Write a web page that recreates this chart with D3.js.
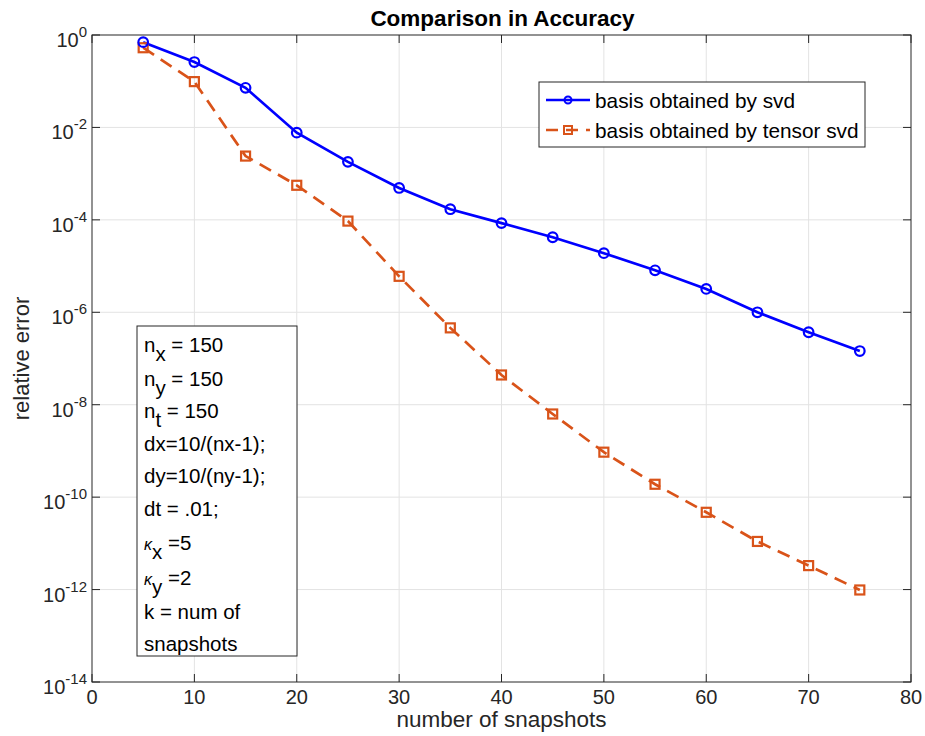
<!DOCTYPE html>
<html><head><meta charset="utf-8">
<script src="https://cdn.jsdelivr.net/npm/d3@7"></script>
<style>body{margin:0;background:#fff;}svg{display:block;font-family:"Liberation Sans",Arial,Helvetica,sans-serif;}</style>
</head><body>
<svg id="c" width="925" height="736"></svg>
<script>
const snapshots = [5,10,15,20,25,30,35,40,45,50,55,60,65,70,75];
const svdErr = [0.70,0.26,0.072,0.0077,1.8e-3,4.9e-4,1.7e-4,8.5e-5,4.2e-5,1.9e-5,8.1e-6,3.2e-6,1.0e-6,3.7e-7,1.45e-7];
const tsvdErr = [0.53,0.098,2.4e-3,5.6e-4,9.4e-5,6.0e-6,4.6e-7,4.4e-8,6.3e-9,9.4e-10,1.9e-10,4.7e-11,1.1e-11,3.3e-12,9.8e-13];
const xTicks = [0,10,20,30,40,50,60,70,80];
const yExponents = [0,-2,-4,-6,-8,-10,-12,-14];
const seriesNames = ["basis obtained by svd","basis obtained by tensor svd"];
const titleText = "Comparison in Accuracy";
const xLabel = "number of snapshots";
const yLabel = "relative error";

const L=92, R=911, T=35, B=682;
const svg = d3.select("#c");
const x = d3.scaleLinear().domain([0,80]).range([L,R]);
const y = d3.scaleLog().domain([1e-14,1]).range([B,T]);
const blue="#0000ff", orange="#D95319", axisCol="#262626", gridCol="#e3e3e3";

// grid
const g = svg.append("g");
xTicks.forEach(t=>{ if(t>0&&t<80) g.append("line").attr("x1",x(t)).attr("x2",x(t)).attr("y1",T).attr("y2",B).attr("stroke",gridCol).attr("stroke-width",1); });
yExponents.forEach(e=>{ const v=Math.pow(10,e); if(e<0&&e>-14) g.append("line").attr("x1",L).attr("x2",R).attr("y1",y(v)).attr("y2",y(v)).attr("stroke",gridCol).attr("stroke-width",1); });

// axes box
svg.append("rect").attr("x",L).attr("y",T).attr("width",R-L).attr("height",B-T).attr("fill","none").attr("stroke",axisCol).attr("stroke-width",1);
xTicks.forEach(t=>{
  svg.append("line").attr("x1",x(t)).attr("x2",x(t)).attr("y1",B).attr("y2",B-8).attr("stroke",axisCol);
  svg.append("line").attr("x1",x(t)).attr("x2",x(t)).attr("y1",T).attr("y2",T+8).attr("stroke",axisCol);
  svg.append("text").attr("x",x(t)).attr("y",704).attr("text-anchor","middle").attr("font-size",20).attr("fill",axisCol).text(t);
});
yExponents.forEach(e=>{
  const yy=y(Math.pow(10,e));
  svg.append("line").attr("x1",L).attr("x2",L+8).attr("y1",yy).attr("y2",yy).attr("stroke",axisCol);
  svg.append("line").attr("x1",R).attr("x2",R-8).attr("y1",yy).attr("y2",yy).attr("stroke",axisCol);
  const tx=svg.append("text").attr("x",87).attr("y",yy+12).attr("text-anchor","end").attr("font-size",20).attr("fill",axisCol);
  tx.append("tspan").text("10");
  tx.append("tspan").attr("dy",-10).attr("font-size",15).text(e);
});

// lines
const line = d3.line().x(d=>x(d[0])).y(d=>y(d[1]));
const bData = snapshots.map((s,i)=>[s,svdErr[i]]);
const oData = snapshots.map((s,i)=>[s,tsvdErr[i]]);
svg.append("path").datum(oData).attr("d",line).attr("fill","none").attr("stroke",orange).attr("stroke-width",2.7).attr("stroke-dasharray","13,8");
svg.append("path").datum(bData).attr("d",line).attr("fill","none").attr("stroke",blue).attr("stroke-width",2.7);
svg.selectAll(".om").data(oData).enter().append("rect").attr("x",d=>x(d[0])-4.5).attr("y",d=>y(d[1])-4.5).attr("width",9).attr("height",9).attr("fill","none").attr("stroke",orange).attr("stroke-width",2.2);
svg.selectAll(".bm").data(bData).enter().append("circle").attr("cx",d=>x(d[0])).attr("cy",d=>y(d[1])).attr("r",4.8).attr("fill","none").attr("stroke",blue).attr("stroke-width",2.2);

// title and labels
svg.append("text").attr("x",(L+R)/2+1).attr("y",26).attr("text-anchor","middle").attr("font-size",22.5).attr("font-weight","bold").attr("fill","#000").text(titleText);
svg.append("text").attr("x",(L+R)/2).attr("y",727).attr("text-anchor","middle").attr("font-size",22.5).attr("fill",axisCol).text(xLabel);
svg.append("text").attr("transform","translate(29,"+((T+B)/2)+") rotate(-90)").attr("text-anchor","middle").attr("font-size",22).attr("fill",axisCol).text(yLabel);

// legend
const lg = svg.append("g");
lg.append("rect").attr("x",539).attr("y",82).attr("width",326).attr("height",65).attr("fill","#fff").attr("stroke","#262626").attr("stroke-width",1);
const legItems=[{c:blue,dash:null,m:"c",yy:100},{c:orange,dash:"12,8",m:"s",yy:130}];
legItems.forEach((it,i)=>{
  lg.append("line").attr("x1",546).attr("x2",590).attr("y1",it.yy).attr("y2",it.yy).attr("stroke",it.c).attr("stroke-width",2.7).attr("stroke-dasharray",it.dash);
  if(it.m==="c") lg.append("circle").attr("cx",568).attr("cy",it.yy).attr("r",3.5).attr("fill","none").attr("stroke",it.c).attr("stroke-width",2);
  else lg.append("rect").attr("x",564).attr("y",it.yy-4).attr("width",8).attr("height",8).attr("fill","none").attr("stroke",it.c).attr("stroke-width",2);
  lg.append("text").attr("x",595).attr("y",it.yy+7.5).attr("font-size",20.8).attr("fill","#000").text(seriesNames[i]);
});

// annotation box
const paramLines = [
  {main:"n", sub:"x", rest:" = 150"},
  {main:"n", sub:"y", rest:" = 150"},
  {main:"n", sub:"t", rest:" = 150"},
  {main:"dx=10/(nx-1);"},
  {main:"dy=10/(ny-1);"},
  {main:"dt = .01;"},
  {main:"\u03BA", sub:"x", rest:" =5", ital:true},
  {main:"\u03BA", sub:"y", rest:" =2", ital:true},
  {main:"k = num of"},
  {main:"snapshots"}
];
const ab = svg.append("g");
ab.append("rect").attr("x",137).attr("y",326).attr("width",160).attr("height",330).attr("fill","#fff").attr("stroke","#262626").attr("stroke-width",1);
const baselines=[352,386,418,451,483,516,550,585,619,651];
paramLines.forEach((p,i)=>{
  const t=ab.append("text").attr("x",144).attr("y",baselines[i]).attr("font-size",20.5).attr("fill","#000");
  const m=t.append("tspan").text(p.main);
  if(p.ital) m.attr("font-style","italic").attr("font-size",16);
  if(p.sub){
    t.append("tspan").attr("dy",9).attr("font-size",20.5).text(p.sub);
    t.append("tspan").attr("dy",-9).text(p.rest);
  }
});
</script>
</body></html>
